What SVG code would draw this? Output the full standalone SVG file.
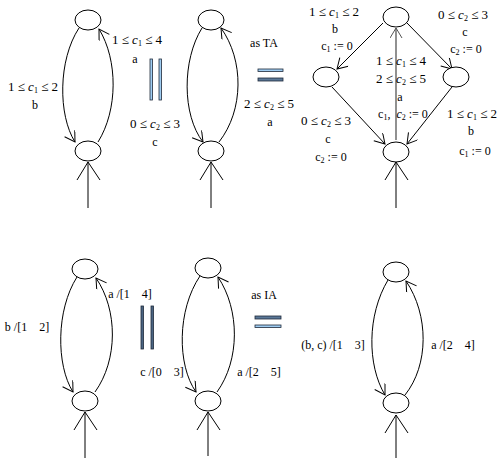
<svg xmlns="http://www.w3.org/2000/svg" width="497" height="458" viewBox="0 0 497 458">
<defs>
<marker id="ah" markerWidth="14" markerHeight="14" refX="11" refY="6" orient="auto" markerUnits="userSpaceOnUse">
<path d="M1,0 L11,6 L1,12" fill="none" stroke="#000" stroke-width="1"/>
</marker>
<marker id="ahg" markerWidth="14" markerHeight="14" refX="11" refY="6" orient="auto" markerUnits="userSpaceOnUse">
<path d="M1,0 L11,6 L1,12" fill="none" stroke="#555" stroke-width="1"/>
</marker>
</defs>
<style>
.n{fill:#fff;stroke:#000;stroke-width:1}
.e{fill:none;stroke:#000;stroke-width:1;marker-end:url(#ah)}
.g{fill:none;stroke:#555;stroke-width:1.3;marker-end:url(#ahg)}
.i{fill:none;stroke:#000;stroke-width:1}
text{font-family:'Liberation Serif',serif;font-size:12px;fill:#000;text-anchor:middle;white-space:pre}
.m{font-size:13px}
.c{font-style:italic}
.s{font-size:8px}
.lb{fill:#9fcdf2;stroke:#1e2a3a;stroke-width:0.8}
.db{fill:#5a7898;stroke:#1e2a3a;stroke-width:0.8}
.xb{fill:#4a6482;stroke:#1e2a3a;stroke-width:0.8}
</style>

<g id="connectors">
<path class="e" d="M79,28 C58,60 58,115 75,142"/>
<path class="e" d="M98,142 C118,110 118,60 99,29"/>
<path class="i" d="M88,208 L88,162 M77,180 L88,162 L100,180"/>
<path class="e" d="M202,28 C182,60 182,115 203,142"/>
<path class="e" d="M219,142 C244,110 244,60 221,28"/>
<path class="i" d="M211,208 L211,162 M200,180 L211,162 L223,180"/>
<path class="e" d="M383,23 L337,69"/>
<path class="e" d="M407,23 L452,69"/>
<path class="e" d="M332,87 L385,144"/>
<path class="e" d="M452,87 L407,144"/>
<path class="g" d="M396,140 L396,28"/>
<path class="i" d="M396,208 L396,162 M385,180 L396,162 L408,180"/>
<path class="e" d="M77,277 C56,310 56,365 73,392"/>
<path class="e" d="M95,392 C118,360 118,310 96,278"/>
<path class="i" d="M85,458 L85,412 M74,430 L85,412 L97,430"/>
<path class="e" d="M200,276 C177,310 177,365 196,392"/>
<path class="e" d="M217,392 C240,360 240,310 218,277"/>
<path class="i" d="M208,456 L208,412 M197,430 L208,412 L220,430"/>
<path class="e" d="M388,280 C367,315 367,365 385,395"/>
<path class="e" d="M405,395 C429,365 429,315 406,281"/>
<path class="i" d="M396,458 L396,415 M385,433 L396,415 L408,433"/>
</g>

<g id="tl-top"><ellipse class="n" cx="88" cy="20" rx="13" ry="10"/></g>
<g id="tl-bot"><ellipse class="n" cx="88" cy="151" rx="13" ry="10"/></g>
<g id="tm-top"><ellipse class="n" cx="211" cy="20" rx="13" ry="10"/></g>
<g id="tm-bot"><ellipse class="n" cx="211" cy="151" rx="13" ry="10"/></g>
<g id="tr-top"><ellipse class="n" cx="396" cy="17" rx="13" ry="10"/></g>
<g id="tr-left"><ellipse class="n" cx="326" cy="77" rx="13" ry="10"/></g>
<g id="tr-right"><ellipse class="n" cx="456" cy="77" rx="13" ry="10"/></g>
<g id="tr-bot"><ellipse class="n" cx="396" cy="152" rx="13" ry="10"/></g>
<g id="bl-top"><ellipse class="n" cx="85" cy="269" rx="13" ry="10"/></g>
<g id="bl-bot"><ellipse class="n" cx="85" cy="401" rx="13" ry="10"/></g>
<g id="bm-top"><ellipse class="n" cx="208" cy="268" rx="13" ry="10"/></g>
<g id="bm-bot"><ellipse class="n" cx="208" cy="401" rx="13" ry="10"/></g>
<g id="br-top"><ellipse class="n" cx="396" cy="272" rx="13" ry="10"/></g>
<g id="br-bot"><ellipse class="n" cx="396" cy="403" rx="13" ry="10"/></g>

<g id="symbols">
<rect class="lb" x="150" y="59" width="2.5" height="41"/>
<rect class="lb" x="159" y="59" width="2.5" height="41"/>
<rect class="lb" x="258" y="69" width="25" height="2.5"/>
<rect class="db" x="258" y="78" width="25" height="3"/>
<rect class="xb" x="141" y="306" width="2.5" height="43"/>
<rect class="xb" x="151" y="306" width="2.5" height="43"/>
<rect class="db" x="255" y="316" width="26" height="3"/>
<rect class="lb" x="255" y="325" width="26" height="2.5"/>
</g>

<g id="labels">
<text class="m" x="137" y="44">1 ≤ <tspan class="c">c</tspan><tspan class="s" dy="2">1</tspan><tspan dy="-2"> ≤ 4</tspan></text>
<text x="135" y="63">a</text>
<text class="m" x="33" y="91">1 ≤ <tspan class="c">c</tspan><tspan class="s" dy="2">1</tspan><tspan dy="-2"> ≤ 2</tspan></text>
<text x="35" y="109">b</text>
<text class="m" x="155" y="128">0 ≤ <tspan class="c">c</tspan><tspan class="s" dy="2">2</tspan><tspan dy="-2"> ≤ 3</tspan></text>
<text x="155" y="146">c</text>

<text x="264" y="47">as TA</text>
<text class="m" x="269" y="108">2 ≤ <tspan class="c">c</tspan><tspan class="s" dy="2">2</tspan><tspan dy="-2"> ≤ 5</tspan></text>
<text x="270" y="126">a</text>

<text class="m" x="334" y="16">1 ≤ <tspan class="c">c</tspan><tspan class="s" dy="2">1</tspan><tspan dy="-2"> ≤ 2</tspan></text>
<text x="335" y="33">b</text>
<text x="337" y="50">c<tspan class="s" dy="2">1</tspan><tspan dy="-2"> := 0</tspan></text>
<text class="m" x="463" y="19">0 ≤ <tspan class="c">c</tspan><tspan class="s" dy="2">2</tspan><tspan dy="-2"> ≤ 3</tspan></text>
<text x="465" y="36">c</text>
<text x="466" y="53">c<tspan class="s" dy="2">2</tspan><tspan dy="-2"> := 0</tspan></text>
<text class="m" x="401" y="65">1 ≤ <tspan class="c">c</tspan><tspan class="s" dy="2">1</tspan><tspan dy="-2"> ≤ 4</tspan></text>
<text class="m" x="401" y="83">2 ≤ <tspan class="c">c</tspan><tspan class="s" dy="2">2</tspan><tspan dy="-2"> ≤ 5</tspan></text>
<text x="400" y="101">a</text>
<text x="403" y="118">c<tspan class="s" dy="2">1</tspan><tspan dy="-2">,  </tspan><tspan class="c">c</tspan><tspan class="s" dy="2">2</tspan><tspan dy="-2"> := 0</tspan></text>
<text class="m" x="326" y="125">0 ≤ <tspan class="c">c</tspan><tspan class="s" dy="2">2</tspan><tspan dy="-2"> ≤ 3</tspan></text>
<text x="328" y="143">c</text>
<text x="331" y="161">c<tspan class="s" dy="2">2</tspan><tspan dy="-2"> := 0</tspan></text>
<text class="m" x="472" y="118">1 ≤ <tspan class="c">c</tspan><tspan class="s" dy="2">1</tspan><tspan dy="-2"> ≤ 2</tspan></text>
<text x="471" y="135">b</text>
<text x="475" y="155">c<tspan class="s" dy="2">1</tspan><tspan dy="-2"> := 0</tspan></text>

<text x="130" y="298">a /[1    4]</text>
<text x="27" y="331">b /[1    2]</text>
<text x="162" y="376">c /[0    3]</text>
<text x="264" y="299">as IA</text>
<text x="259" y="376">a /[2    5]</text>
<text x="333" y="349">(b, c) /[1    3]</text>
<text x="453" y="349">a /[2    4]</text>
</g>
</svg>
